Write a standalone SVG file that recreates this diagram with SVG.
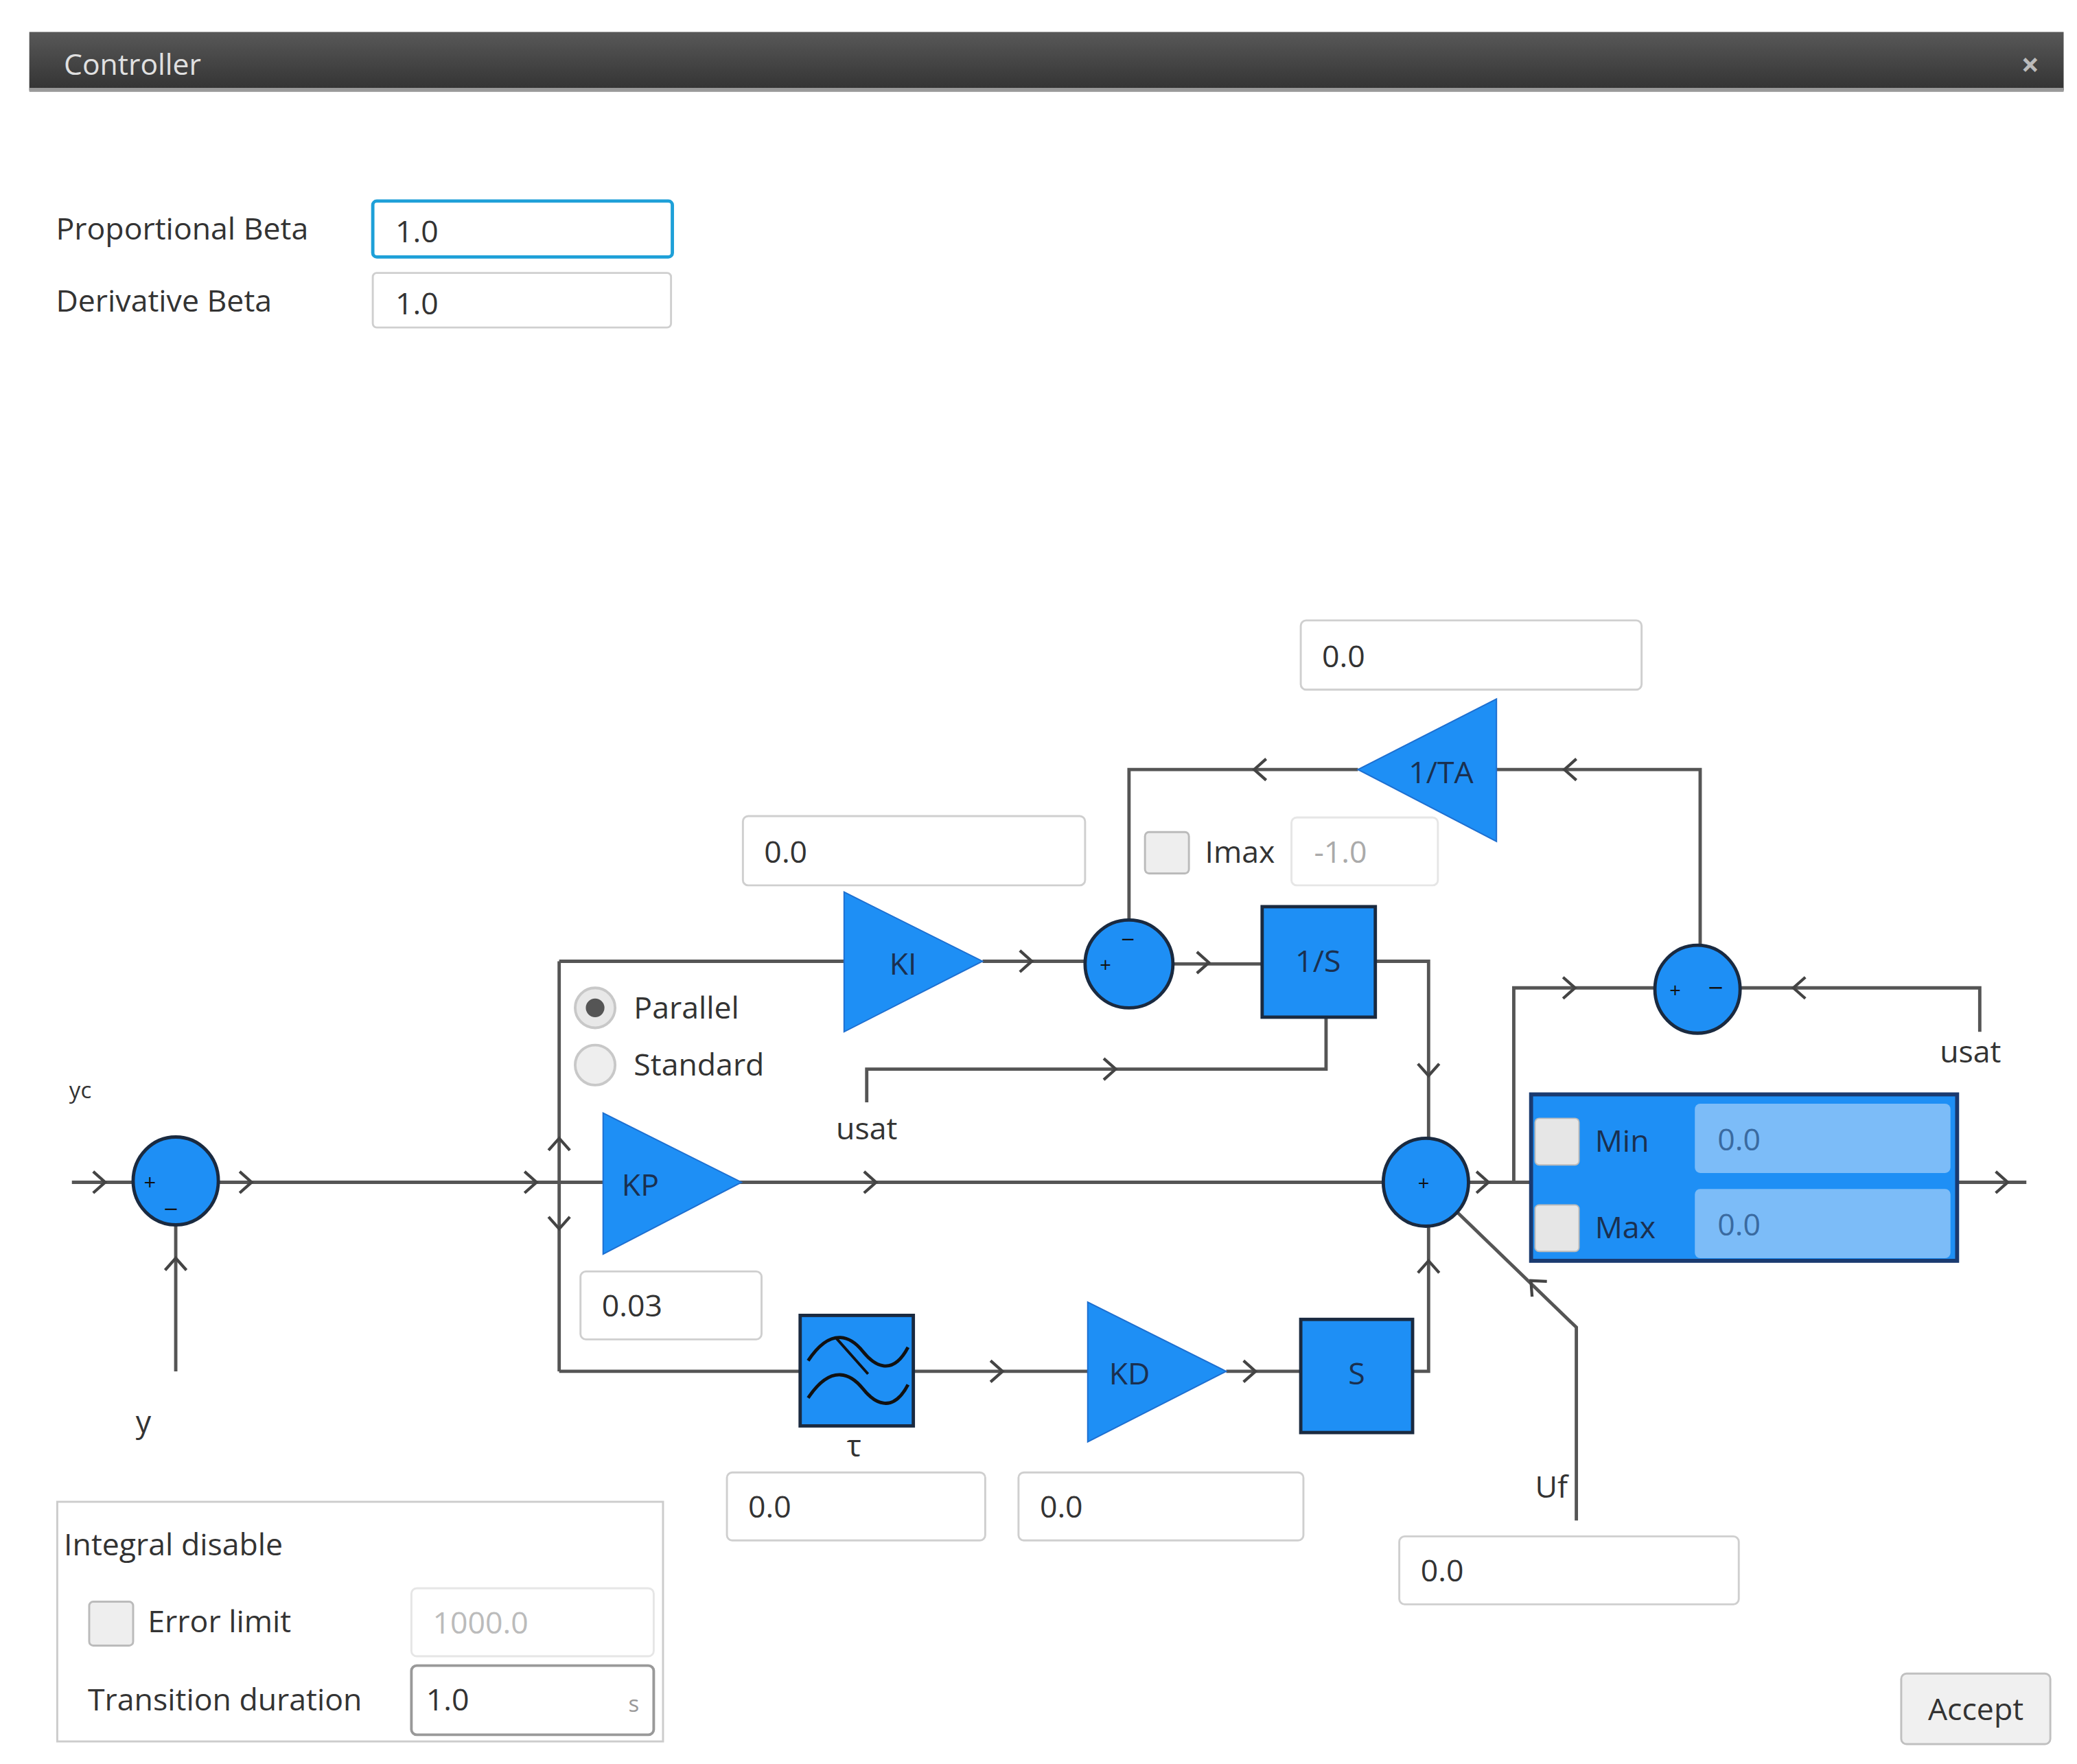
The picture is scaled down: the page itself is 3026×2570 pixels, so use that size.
<svg xmlns="http://www.w3.org/2000/svg" xmlns:xlink="http://www.w3.org/1999/xlink" width="3026" height="2570" viewBox="0 0 3026 2570">
<style>
text{font-family:"Open Sans","Noto Sans","Liberation Sans",sans-serif;fill:#333;}
.lbl{font-size:23px;}
.in{fill:#fff;stroke:#cfcfcf;stroke-width:1.5;}
.w{fill:none;stroke:#555;stroke-width:2.5;}
.blk{fill:#1e8ff5;stroke:#1a2a40;stroke-width:2.5;}
.tri{fill:#1e8ff5;stroke:#1e6fd0;stroke-width:1;}
.bt{font-size:23px;fill:#1a3050;}
.cb{fill:#eee;stroke:#bbb;stroke-width:1.5;}
</style>
<defs>
<linearGradient id="tb" x1="0" y1="0" x2="0" y2="1"><stop offset="0" stop-color="#585858"/><stop offset="1" stop-color="#333"/></linearGradient>
<path id="ch" d="M-6,-8 L3,0 L-6,8" fill="none" stroke="#444" stroke-width="2.2"/>
</defs>
<rect width="3026" height="2570" fill="#fff"/>
<g transform="scale(1.9397)">
<g id="titlebar">
<rect x="22" y="24" width="1528" height="44" fill="url(#tb)"/>
<rect x="22" y="66" width="1528" height="3" fill="#999"/>
<text x="48" y="56" style="font-size:22px;fill:#e0e0e0">Controller</text>
<text x="1518" y="57" style="font-size:24px;fill:#bbb;font-weight:bold">×</text>
</g>
<g id="betas">
<text x="42" y="180" class="lbl">Proportional Beta</text>
<rect x="280" y="151" width="225" height="42" rx="3" fill="#fff" stroke="#1ea0d8" stroke-width="2.5"/>
<text x="297" y="182" class="lbl">1.0</text>
<text x="42" y="234" class="lbl">Derivative Beta</text>
<rect x="280" y="205" width="224" height="41" rx="3" class="in"/>
<text x="297" y="236" class="lbl">1.0</text>
</g>
<g id="connectors">
<path class="w" d="M54,888 H100 M164,888 H1040 M132,1030 V920"/>
<path class="w" d="M420,722 V1030 M420,722 H634 M738,722 H815 M881,724 H948 M1033,722 H1073 V856"/>
<path class="w" d="M996,764 V803 H651 V828"/>
<path class="w" d="M848,691 V578 H1020 M1124,578 H1277 V711"/>
<path class="w" d="M1103,888 H1150 M1137,888 V742 H1243 M1307,742 H1487 V775 M1470,888 H1522"/>
<path class="w" d="M420,1030 H601 M686,1030 H817 M921,1030 H977 M1061,1030 H1073 V920"/>
<path class="w" d="M1094,910 L1184,997 V1142"/>
<use href="#ch" transform="translate(76,888)"/>
<use href="#ch" transform="translate(186,888)"/>
<use href="#ch" transform="translate(400,888)"/>
<use href="#ch" transform="translate(655,888)"/>
<use href="#ch" transform="translate(1115,888)"/>
<use href="#ch" transform="translate(1505,888)"/>
<use href="#ch" transform="translate(132,948) rotate(-90)"/>
<use href="#ch" transform="translate(420,858) rotate(-90)"/>
<use href="#ch" transform="translate(420,920) rotate(90)"/>
<use href="#ch" transform="translate(772,722)"/>
<use href="#ch" transform="translate(905,723)"/>
<use href="#ch" transform="translate(1073,805) rotate(90)"/>
<use href="#ch" transform="translate(835,803)"/>
<use href="#ch" transform="translate(945,578) rotate(180)"/>
<use href="#ch" transform="translate(1178,578) rotate(180)"/>
<use href="#ch" transform="translate(1180,742)"/>
<use href="#ch" transform="translate(1350,742) rotate(180)"/>
<use href="#ch" transform="translate(750,1030)"/>
<use href="#ch" transform="translate(940,1030)"/>
<use href="#ch" transform="translate(1073,950) rotate(-90)"/>
<use href="#ch" transform="translate(1152,964) rotate(-136)"/>
</g>
<g id="sum1">
<ellipse cx="132" cy="887" rx="32" ry="33" class="blk"/>
<text x="108" y="894" style="font-size:16px;fill:#111">+</text>
<text x="124" y="906" style="font-size:20px;fill:#111">_</text>
<text x="52" y="825" style="font-size:17px">yc</text>
<text x="102" y="1076" class="lbl">y</text>
</g>
<g id="modes">
<circle cx="447" cy="757" r="15" fill="#e8e8e8" stroke="#c8c8c8" stroke-width="2"/>
<circle cx="447" cy="757" r="7" fill="#555"/>
<text x="476" y="765" class="lbl">Parallel</text>
<circle cx="447" cy="800" r="15" fill="#eee" stroke="#c8c8c8" stroke-width="2"/>
<text x="476" y="808" class="lbl">Standard</text>
</g>
<g id="KI">
<rect x="558" y="613" width="257" height="52" rx="4" class="in"/>
<text x="574" y="648" class="lbl">0.0</text>
<polygon points="634,670 634,775 738,722" class="tri"/>
<text x="668" y="732" class="bt">KI</text>
</g>
<g id="sum2">
<ellipse cx="848" cy="724" rx="33" ry="33" class="blk"/>
<text x="826" y="730" style="font-size:15px;fill:#111">+</text>
<text x="842" y="712" style="font-size:18px;fill:#111">−</text>
</g>
<g id="integrator">
<rect x="948" y="681" width="85" height="83" class="blk"/>
<text x="990" y="730" class="bt" text-anchor="middle">1/S</text>
<text x="628" y="856" class="lbl">usat</text>
</g>
<g id="imax">
<rect x="860" y="625" width="33" height="31" rx="3" class="cb"/>
<text x="905" y="648" class="lbl">Imax</text>
<rect x="970" y="614" width="110" height="51" rx="4" fill="#fff" stroke="#e6e6e6" stroke-width="1.5"/>
<text x="987" y="648" class="lbl" style="fill:#aaa">-1.0</text>
</g>
<g id="TA">
<rect x="977" y="466" width="256" height="52" rx="4" class="in"/>
<text x="993" y="501" class="lbl">0.0</text>
<polygon points="1020,578 1124,525 1124,632" class="tri"/>
<text x="1058" y="588" class="bt">1/TA</text>
</g>
<g id="sum3">
<ellipse cx="1275" cy="743" rx="32" ry="33" class="blk"/>
<text x="1254" y="749" style="font-size:15px;fill:#111">+</text>
<text x="1283" y="749" style="font-size:20px;fill:#111">−</text>
<text x="1457" y="798" class="lbl">usat</text>
</g>
<g id="sumMain">
<ellipse cx="1071" cy="888" rx="32" ry="33" class="blk"/>
<text x="1065" y="894" style="font-size:15px;fill:#111">+</text>
</g>
<g id="saturation">
<rect x="1150" y="822" width="320" height="125" fill="#1e8ff5" stroke="#1a3a70" stroke-width="3"/>
<rect x="1153" y="840" width="33" height="35" rx="3" fill="#e6e6e6" stroke="#bbb"/>
<rect x="1153" y="905" width="33" height="35" rx="3" fill="#e6e6e6" stroke="#bbb"/>
<text x="1198" y="865" class="bt">Min</text>
<text x="1198" y="930" class="bt">Max</text>
<rect x="1273" y="829" width="192" height="52" rx="4" fill="#7cbcf8"/>
<rect x="1273" y="893" width="192" height="52" rx="4" fill="#7cbcf8"/>
<text x="1290" y="864" class="lbl" style="fill:#3a6aa0">0.0</text>
<text x="1290" y="928" class="lbl" style="fill:#3a6aa0">0.0</text>
</g>
<g id="KP">
<polygon points="453,836 453,942 557,888" class="tri"/>
<text x="467" y="898" class="bt">KP</text>
<rect x="436" y="955" width="136" height="51" rx="4" class="in"/>
<text x="452" y="989" class="lbl">0.03</text>
</g>
<g id="filter">
<rect x="601" y="988" width="85" height="83" class="blk"/>
<path d="M607,1022 C625,995 640,1005 648,1015 S670,1035 682,1012 M607,1050 C625,1023 640,1033 648,1043 S670,1063 682,1040" fill="none" stroke="#111" stroke-width="2.5"/>
<path d="M628,1005 L652,1032" fill="none" stroke="#111" stroke-width="2"/>
<text x="636" y="1094" class="lbl">τ</text>
<rect x="546" y="1106" width="194" height="51" rx="4" class="in"/>
<text x="562" y="1140" class="lbl">0.0</text>
</g>
<g id="KD">
<polygon points="817,978 817,1083 921,1030" class="tri"/>
<text x="833" y="1040" class="bt">KD</text>
<rect x="765" y="1106" width="214" height="51" rx="4" class="in"/>
<text x="781" y="1140" class="lbl">0.0</text>
</g>
<g id="deriv">
<rect x="977" y="991" width="84" height="85" class="blk"/>
<text x="1019" y="1040" class="bt" text-anchor="middle">S</text>
</g>
<g id="uf">
<text x="1153" y="1125" class="lbl">Uf</text>
<rect x="1051" y="1154" width="255" height="51" rx="4" class="in"/>
<text x="1067" y="1188" class="lbl">0.0</text>
</g>
<g id="integralDisable">
<rect x="43" y="1128" width="455" height="180" fill="none" stroke="#ccc" stroke-width="1.5"/>
<text x="48" y="1168" class="lbl">Integral disable</text>
<rect x="67" y="1203" width="33" height="33" rx="3" class="cb"/>
<text x="111" y="1226" class="lbl">Error limit</text>
<rect x="309" y="1193" width="182" height="51" rx="4" fill="#fff" stroke="#e6e6e6" stroke-width="1.5"/>
<text x="325" y="1227" class="lbl" style="fill:#bbb">1000.0</text>
<text x="66" y="1285" class="lbl">Transition duration</text>
<rect x="309" y="1251" width="182" height="52" rx="4" fill="#fff" stroke="#999" stroke-width="2"/>
<text x="320" y="1285" class="lbl">1.0</text>
<text x="472" y="1286" style="font-size:17px;fill:#999">s</text>
</g>
<g id="accept">
<rect x="1428" y="1257" width="112" height="53" rx="4" fill="#f0f0f0" stroke="#c0c0c0" stroke-width="1.5"/>
<text x="1484" y="1292" class="lbl" text-anchor="middle">Accept</text>
</g>
</g>
</svg>
